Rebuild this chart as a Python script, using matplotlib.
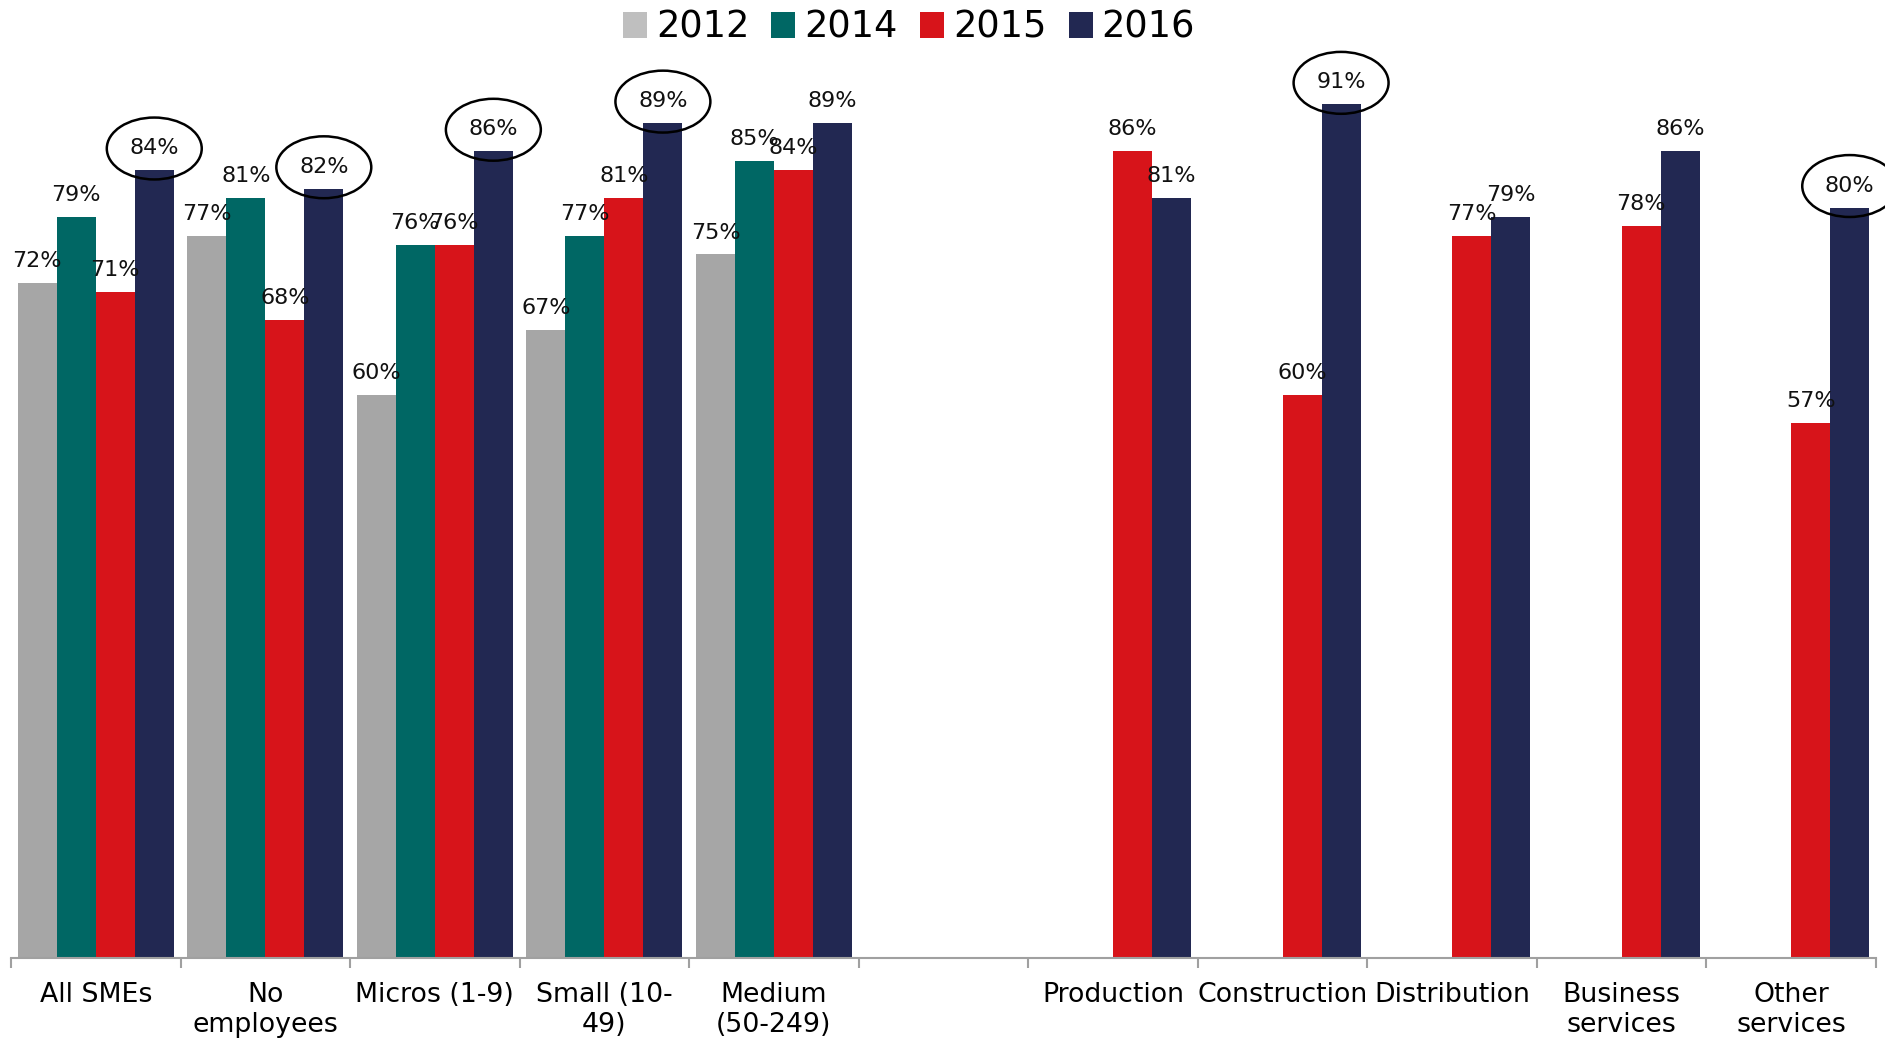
import numpy as np
import matplotlib.pyplot as plt
from matplotlib.patches import Ellipse, Patch

# Share of SMEs by size band and by sector, four survey years.
CATEGORIES = [
    "All SMEs", "No\nemployees", "Micros (1-9)", "Small (10-\n49)",
    "Medium\n(50-249)", "", "Production", "Construction", "Distribution",
    "Business\nservices", "Other\nservices",
]
YEARS = ["2012", "2014", "2015", "2016"]
nan = np.nan
VALUES_2012 = [72, 77, 60, 67, 75, nan, nan, nan, nan, nan, nan]
VALUES_2014 = [79, 81, 76, 77, 85, nan, nan, nan, nan, nan, nan]
VALUES_2015 = [71, 68, 76, 81, 84, nan, 86, 60, 77, 78, 57]
VALUES_2016 = [84, 82, 86, 89, 89, nan, 81, 91, 79, 86, 80]
# 2016 values that get a ring drawn round their label
HIGHLIGHT_2016 = ["All SMEs", "No\nemployees", "Micros (1-9)",
                  "Small (10-\n49)", "Construction", "Other\nservices"]

BAR_COLORS = ["#A6A6A6", "#006764", "#D7141A", "#222852"]
LEGEND_COLORS = ["#BFBFBF", "#006764", "#D7141A", "#222852"]
AXIS_GRAY = "#A0A0A0"
BAR_W = 0.23

fig = plt.figure(figsize=(18.85, 10.4), dpi=100)
ax = fig.add_axes([11 / 1885, 82 / 1040, 1865 / 1885, 938 / 1040])

series = [VALUES_2012, VALUES_2014, VALUES_2015, VALUES_2016]
x = np.arange(len(CATEGORIES))
for k, (vals, color) in enumerate(zip(series, BAR_COLORS)):
  xs = x + (k - 1.5) * BAR_W
  ax.bar(xs, vals, width=BAR_W, color=color, linewidth=0)
  for xi, v in zip(xs, vals):
    if np.isnan(v):
      continue
    ax.annotate(f"{v:.0f}%", (xi, v), xytext=(0, 11.5),
                textcoords="offset points", ha="center", va="baseline",
                fontsize=16, color="#111111")

# rings round the headline 2016 labels
for name in HIGHLIGHT_2016:
  i = CATEGORIES.index(name)
  v = VALUES_2016[i]
  ax.add_patch(Ellipse((i + 1.5 * BAR_W, v + 2.3), width=0.56, height=6.6,
                       fill=False, edgecolor="black", linewidth=1.8,
                       clip_on=False))

ax.set_xlim(-0.5, len(CATEGORIES) - 0.5)
ax.set_ylim(0, 100)

# tick marks between groups, labels under group centres
ax.set_xticks(np.arange(len(CATEGORIES) + 1) - 0.5)
ax.set_xticklabels([])
ax.set_xticks(x, minor=True)
ax.set_xticklabels(CATEGORIES, minor=True, fontsize=19.3)
ax.tick_params(axis="x", which="major", direction="out", length=7,
               width=1.5, color=AXIS_GRAY)
ax.tick_params(axis="x", which="minor", length=0, pad=17)
for t in ax.get_xticklabels(minor=True):
  t.set_linespacing(1.2)
ax.set_yticks([])

for side in ("left", "right", "top"):
  ax.spines[side].set_visible(False)
ax.spines["bottom"].set_color(AXIS_GRAY)
ax.spines["bottom"].set_linewidth(1.5)

handles = [Patch(facecolor=c, edgecolor="none") for c in LEGEND_COLORS]
fig.legend(handles, YEARS, loc="center", bbox_to_anchor=(909 / 1885, 1 - 27 / 1040),
           ncol=4, frameon=False, fontsize=26.5, handlelength=0.65,
           handleheight=0.7, handletextpad=0.25, columnspacing=0.6,
           borderpad=0)

fig.savefig("out.png", dpi=100)
